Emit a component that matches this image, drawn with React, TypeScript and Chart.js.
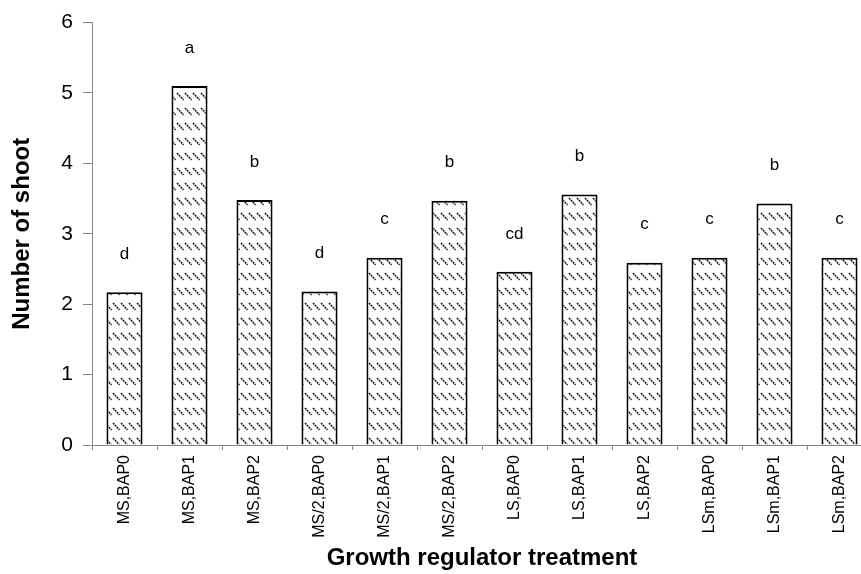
import { useEffect, useRef } from "react";
import { Chart, registerables } from "chart.js";

Chart.register(...registerables);

const categories = [
  "MS,BAP0",
  "MS,BAP1",
  "MS,BAP2",
  "MS/2,BAP0",
  "MS/2,BAP1",
  "MS/2,BAP2",
  "LS,BAP0",
  "LS,BAP1",
  "LS,BAP2",
  "LSm,BAP0",
  "LSm,BAP1",
  "LSm,BAP2",
];
const shootCounts = [2.17, 5.1, 3.48, 2.18, 2.66, 3.47, 2.46, 3.56, 2.59, 2.66, 3.43, 2.66];
const groupLetters = ["d", "a", "b", "d", "c", "b", "cd", "b", "c", "c", "b", "c"];
const yTickValues = [0, 1, 2, 3, 4, 5, 6];

const FONT = "'Liberation Sans', Arial, Helvetica, sans-serif";

function makeHatch(): CanvasPattern | string {
  const tile = document.createElement("canvas");
  tile.width = 8;
  tile.height = 15;
  const c = tile.getContext("2d");
  if (!c) return "#fff";
  c.fillStyle = "#fff";
  c.fillRect(0, 0, 8, 15);
  c.strokeStyle = "#1a1a1a";
  c.lineWidth = 1.6;
  c.setLineDash([2, 0.8]);
  c.beginPath();
  c.moveTo(1, 3);
  c.lineTo(7.5, 10);
  c.stroke();
  const p = c.createPattern(tile, "repeat");
  return p || "#fff";
}

const letterPlugin = {
  id: "groupLetters",
  afterDatasetsDraw(chart: any) {
    const meta = chart.getDatasetMeta(0);
    const ctx = chart.ctx;
    ctx.save();
    ctx.font = `17px ${FONT}`;
    ctx.fillStyle = "#000";
    ctx.textAlign = "center";
    ctx.textBaseline = "middle";
    meta.data.forEach((bar: any, i: number) => {
      ctx.fillText(groupLetters[i], bar.x, bar.y - 38);
    });
    ctx.restore();
  },
};

export default function App() {
  const ref = useRef<HTMLCanvasElement | null>(null);

  useEffect(() => {
    if (!ref.current) return;
    const chart = new Chart(ref.current, {
      type: "bar",
      data: {
        labels: categories,
        datasets: [
          {
            data: shootCounts,
            backgroundColor: makeHatch() as any,
            borderColor: "#000",
            borderWidth: 2,
            barPercentage: 0.555,
            categoryPercentage: 1,
          },
        ],
      },
      options: {
        responsive: false,
        animation: false,
        devicePixelRatio: 1,
        layout: { padding: { top: 21, right: 8, left: 0, bottom: 0 }, autoPadding: false },
        plugins: { legend: { display: false }, tooltip: { enabled: false } },
        scales: {
          x: {
            grid: { drawOnChartArea: false, tickLength: 5, color: "#888", offset: true },
            border: { color: "#888", width: 1 },
            ticks: {
              minRotation: 90,
              maxRotation: 90,
              autoSkip: false,
              padding: 5,
              color: "#000",
              font: { family: FONT, size: 16 },
            },
            title: {
              display: true,
              text: "Growth regulator treatment",
              color: "#000",
              font: { family: FONT, size: 24, weight: "bold", lineHeight: 1 },
              padding: { top: 0, bottom: 4 },
            },
            afterFit: (s: any) => {
              s.height = 129;
            },
          },
          y: {
            min: 0,
            max: 6,
            afterBuildTicks: (s: any) => {
              s.ticks = yTickValues.map((v) => ({ value: v }));
            },
            grid: { drawOnChartArea: false, tickLength: 9, color: "#888" },
            border: { color: "#888", width: 1 },
            ticks: {
              padding: 10,
              color: "#000",
              font: { family: FONT, size: 21 },
            },
            title: {
              display: true,
              text: "Number of shoot",
              color: "#000",
              font: { family: FONT, size: 24, weight: "bold", lineHeight: 1 },
              padding: { top: 10, bottom: 0 },
            },
            afterFit: (s: any) => {
              s.width = 92;
            },
          },
        },
      },
      plugins: [letterPlugin],
    });
    return () => chart.destroy();
  }, []);

  return (
    <div
      style={{
        position: "fixed",
        left: 0,
        top: 0,
        width: 861,
        height: 574,
        overflow: "hidden",
        background: "#fff",
      }}
    >
      <canvas ref={ref} width={880} height={574} style={{ display: "block" }} />
    </div>
  );
}
